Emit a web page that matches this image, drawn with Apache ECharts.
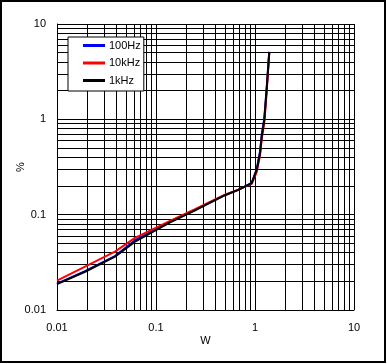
<!DOCTYPE html>
<html><head><meta charset="utf-8">
<script src="https://cdn.jsdelivr.net/npm/echarts@6/dist/echarts.min.js"></script>
<style>html,body{margin:0;padding:0;background:#fff}#c{width:387px;height:364px}</style>
</head><body><div id="c"></div>
<script>
const powerW = [0.01, 0.0192, 0.0385, 0.0614, 0.1385, 0.248, 0.498, 0.678, 0.926, 1.04, 1.124, 1.169, 1.242, 1.31, 1.394];
const thd100Hz = [0.0189, 0.0256, 0.0368, 0.054, 0.084, 0.112, 0.161, 0.182, 0.216, 0.30, 0.46, 0.69, 1.03, 2.1, 5.1];
const thd10kHz = [0.0203, 0.0285, 0.0409, 0.057, 0.086, 0.114, 0.162, 0.183, 0.21, 0.28, 0.42, 0.62, 0.93, 1.9, 5.0];
const thd1kHz = [0.0187, 0.0252, 0.0363, 0.052, 0.083, 0.111, 0.160, 0.182, 0.214, 0.294, 0.441, 0.659, 0.986, 2.03, 5.1];
const minorMultipliers = [2, 3, 4, 5, 6, 7, 8, 9];
const decades = [0.01, 0.1, 1];

const font = '"Liberation Sans", Arial, sans-serif';
const pairs = ys => powerW.map((x, i) => [x, ys[i]]);
const minorVals = [];
decades.forEach(d => minorMultipliers.forEach(m => minorVals.push(+(d * m).toPrecision(3))));
const gridMarks = [];
minorVals.forEach(v => { gridMarks.push({ xAxis: v }); gridMarks.push({ yAxis: v }); });

const chart = echarts.init(document.getElementById('c'), null, { renderer: 'canvas' });
const lineSeries = (name, data, color) => ({
  name, type: 'line', data: pairs(data), showSymbol: false, symbol: 'none', smooth: false,
  lineStyle: { color, width: 2 }, itemStyle: { color }, z: 5, animation: false
});
chart.setOption({
  backgroundColor: '#fff',
  animation: false,
  textStyle: { fontFamily: font },
  graphic: [{ type: 'rect', shape: { x: 1, y: 1, width: 384, height: 361 }, style: { fill: 'none', stroke: '#000', lineWidth: 2 }, silent: true }],
  grid: { left: 57, top: 24, width: 297, height: 286, containLabel: false, outerBoundsMode: 'none' },
  legend: {
    orient: 'vertical', left: 68, top: 37,
    data: ['100Hz', '10kHz', '1kHz'],
    icon: 'path://M0,0h22v3h-22z', symbolKeepAspect: true,
    itemWidth: 22, itemHeight: 11, itemGap: 6.5,
    padding: [3, 3, 5, 15],
    backgroundColor: '#fff', borderColor: '#000', borderWidth: 1,
    textStyle: { fontFamily: font, fontSize: 11, color: '#000', padding: [0, 0, 0, -1] },
    z: 10
  },
  xAxis: {
    type: 'log', logBase: 10, min: 0.01, max: 10,
    name: 'W', nameLocation: 'middle', nameGap: 25, nameMoveOverlap: false,
    nameTextStyle: { fontFamily: font, fontSize: 11, color: '#000' },
    axisLine: { show: true, lineStyle: { color: '#000', width: 1 } },
    axisTick: { show: false },
    axisLabel: { color: '#000', fontSize: 11, fontFamily: font, margin: 12 },
    splitLine: { show: true, lineStyle: { color: '#000', width: 1 } }
  },
  yAxis: {
    type: 'log', logBase: 10, min: 0.01, max: 10,
    name: '%', nameLocation: 'middle', nameGap: 31, nameRotate: 90, nameMoveOverlap: false,
    nameTextStyle: { fontFamily: font, fontSize: 11, color: '#000' },
    axisLine: { show: true, lineStyle: { color: '#000', width: 1 } },
    axisTick: { show: false },
    axisLabel: { color: '#000', fontSize: 11, fontFamily: font, margin: 11 },
    splitLine: { show: true, lineStyle: { color: '#000', width: 1 } }
  },
  series: [
    {
      name: 'grid', type: 'line', data: [], z: 1, silent: true,
      markLine: {
        silent: true, symbol: ['none', 'none'], label: { show: false }, animation: false,
        lineStyle: { color: '#000', width: 1, type: 'solid' },
        emphasis: { disabled: true },
        data: gridMarks
      }
    },
    lineSeries('100Hz', thd100Hz, '#0000ff'),
    lineSeries('10kHz', thd10kHz, '#ff0000'),
    lineSeries('1kHz', thd1kHz, '#000000')
  ]
});
</script></body></html>
